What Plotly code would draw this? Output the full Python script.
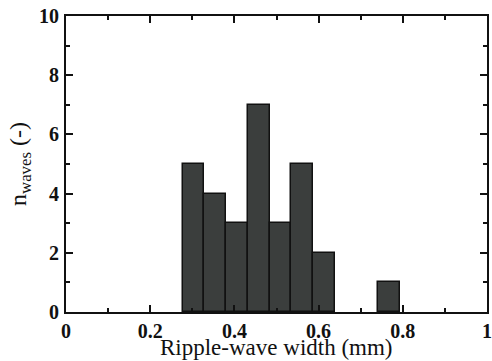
import plotly.graph_objects as go

# histogram bins (left edges) and counts
bin_left = [0.277, 0.3286, 0.3802, 0.4318, 0.4834, 0.535, 0.5866, 0.6382, 0.6898, 0.7414]
bin_width = 0.0516
counts = [5, 4, 3, 7, 3, 5, 2, 0, 0, 1]

x_ticks = [0, 0.2, 0.4, 0.6, 0.8, 1]
x_labels = ["0", "0.2", "0.4", "0.6", "0.8", "1"]
y_ticks = [0, 2, 4, 6, 8, 10]

centers = [b + bin_width / 2 for b in bin_left]
line_widths = [1.5 if c > 0 else 0 for c in counts]

SERIF = "Liberation Serif"

fig = go.Figure()
fig.add_trace(go.Bar(
    x=centers, y=counts, width=bin_width,
    marker=dict(color="#3b3e3d", line=dict(color="#111111", width=line_widths)),
    showlegend=False,
))

tickfont = dict(family=SERIF, size=20, color="#111111")
fig.update_layout(
    width=492, height=361,
    margin=dict(l=66, r=5, t=16, b=49, autoexpand=False),
    paper_bgcolor="white", plot_bgcolor="white",
    bargap=0,
    font=dict(family=SERIF, color="#111111"),
    xaxis=dict(
        range=[0, 1], tickvals=x_ticks, ticktext=[f"<b>{t}</b>" for t in x_labels],
        ticks="inside", ticklen=7, tickwidth=1.5, tickcolor="#111111",
        minor=dict(dtick=0.1, ticks="inside", ticklen=4, tickwidth=1.5, tickcolor="#111111"),
        showline=True, linewidth=2, linecolor="#111111", mirror="ticks",
        showgrid=False, zeroline=False, tickfont=tickfont,
        automargin=False, ticklabelstandoff=0, ticklabeloverflow="allow",
    ),
    yaxis=dict(
        range=[0, 10], tickvals=y_ticks, ticktext=[f"<b>{t}</b>" for t in y_ticks],
        ticks="inside", ticklen=7, tickwidth=1.5, tickcolor="#111111",
        minor=dict(dtick=1, ticks="inside", ticklen=4, tickwidth=1.5, tickcolor="#111111"),
        showline=True, linewidth=2, linecolor="#111111", mirror="ticks",
        showgrid=False, zeroline=False, tickfont=tickfont, ticklabelstandoff=1,
        automargin=False, ticklabeloverflow="allow",
        title=dict(text="n<sub>waves</sub> (-)", font=dict(family=SERIF, size=24), standoff=6),
    ),
    annotations=[dict(
        text="Ripple-wave width (mm)", xref="paper", yref="paper",
        x=0.5, y=-0.121, xanchor="center", yanchor="middle", showarrow=False,
        font=dict(family=SERIF, size=23, color="#111111"),
    )],
)

fig.write_html("out.html")
